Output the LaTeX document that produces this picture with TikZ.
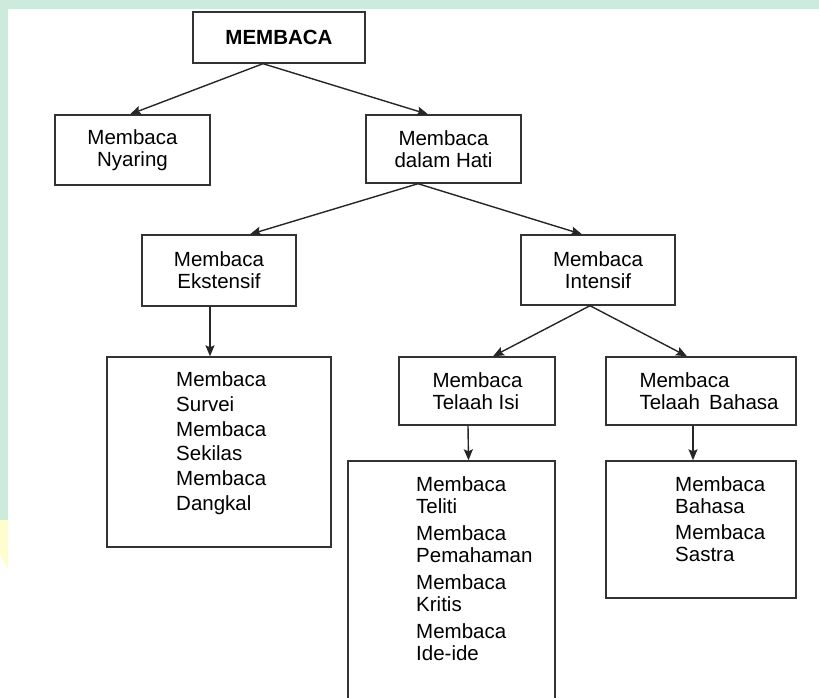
\documentclass[tikz,border=0pt]{standalone}
\usepackage{fontspec}
\setmainfont{Liberation Sans}
\usetikzlibrary{arrows.meta}
\definecolor{wmgreen}{RGB}{205,235,220}
\definecolor{wmyellow}{RGB}{255,252,205}

\begin{document}
\begin{tikzpicture}[
  x=1pt, y=-1pt,
  box/.style={rectangle, draw=black!80, line width=1.4pt, align=center,
              inner sep=0pt, font=\fontsize{20.5}{22}\selectfont},
  lst/.style={inner sep=0pt, align=left, anchor=north west,
              font=\fontsize{20.5}{22}\selectfont},
  arr/.style={-{Stealth[length=11pt,width=9pt,inset=2pt]}, line width=1.4pt, black!85},
]
% background strip of the scan
\fill[wmgreen] (0,0) rectangle (819,9);
\fill[wmgreen] (0,0) rectangle (8,520);
\fill[wmyellow] (0,520) -- (8,520) -- (8,570) -- (0,555) -- cycle;
\useasboundingbox (0,0) rectangle (819,698);

% upper levels
\node[box, minimum width=172pt, minimum height=51pt] (membaca) at (279,37.5) {\textbf{MEMBACA}};
\node[box, minimum width=155pt, minimum height=70pt] (nyaring) at (132.5,150) {Membaca\\Nyaring};
\node[box, minimum width=155pt, minimum height=68pt] (hati) at (443.5,149) {Membaca\\dalam Hati};
\node[box, minimum width=154pt, minimum height=71pt] (ekstensif) at (219,270.5) {Membaca\\Ekstensif};
\node[box, minimum width=154pt, minimum height=70pt] (intensif) at (598,270) {Membaca\\Intensif};
\node[box, minimum width=156pt, minimum height=68pt] (isi) at (477,391) {};
\node[box, minimum width=190pt, minimum height=68pt] (bahasa) at (701,391) {};
\node[lst, anchor=west] (isitxt) at ([xshift=34pt]isi.west) {Membaca\\Telaah Isi};
\node[lst, anchor=west] (bahasatxt) at ([xshift=34pt]bahasa.west) {Membaca\\Telaah\hspace{0.45em}Bahasa};

% lists
\node[box, minimum width=224pt, minimum height=190pt] (ekslist) at (219,452) {};
\node[box, minimum width=207pt, minimum height=248pt] (isilist) at (451.5,585) {};
\node[box, minimum width=190pt, minimum height=137pt] (bhslist) at (701,529.5) {};
\node[lst, font=\fontsize{20.5}{24.7}\selectfont] (ekstxt) at (176,371.8)
  {Membaca\\Survei\\Membaca\\Sekilas\\Membaca\\Dangkal};
\node[lst] (isilisttxt) at (416,476.8)
  {Membaca\\Teliti\\[5pt]Membaca\\Pemahaman\\[5pt]Membaca\\Kritis\\[5pt]Membaca\\Ide-ide};
\node[lst] (bhslisttxt) at (675,476.8)
  {Membaca\\Bahasa\\[4pt]Membaca\\Sastra};

\draw[arr] ([xshift=-16pt]membaca.south) -- ([xshift=-2.5pt]nyaring.north);
\draw[arr] ([xshift=-16pt]membaca.south) -- ([xshift=-15.5pt]hati.north);
\draw[arr] ([xshift=-25.5pt]hati.south) -- ([xshift=31pt]ekstensif.north);
\draw[arr] ([xshift=-25.5pt]hati.south) -- ([xshift=-16pt]intensif.north);
\draw[arr] ([xshift=-9pt]ekstensif.south) -- ([xshift=-9pt]ekslist.north);
\draw[arr] ([xshift=-8pt]intensif.south) -- ([xshift=16pt]isi.north);
\draw[arr] ([xshift=-8pt]intensif.south) -- ([xshift=-14pt]bahasa.north);
\draw[arr] ([xshift=-9pt]isi.south) -- ([xshift=17pt]isilist.north);
\draw[arr] ([xshift=-8pt]bahasa.south) -- ([xshift=-8pt]bhslist.north);
\end{tikzpicture}
\end{document}
